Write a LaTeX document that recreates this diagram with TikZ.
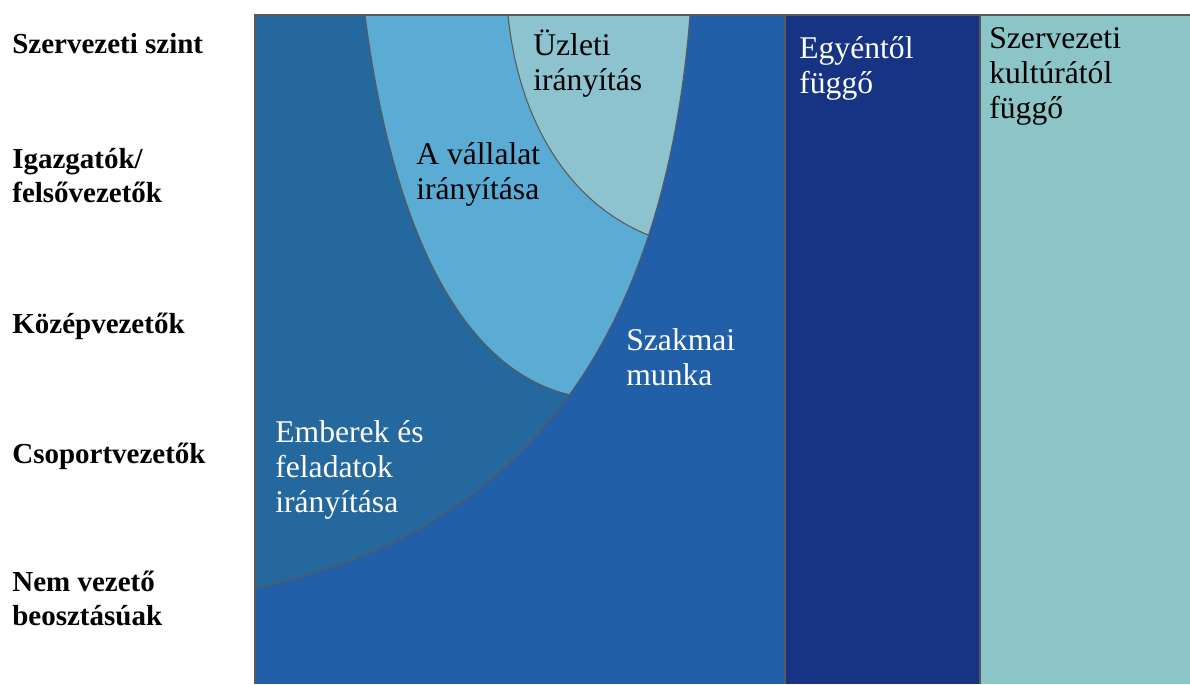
\documentclass[tikz,border=0pt]{standalone}
\usepackage{fontspec}
\setmainfont{Liberation Serif}
\usetikzlibrary{positioning}

\definecolor{midblue}{HTML}{215FA8}
\definecolor{steelblue}{HTML}{25689D}
\definecolor{lightblue}{HTML}{5AACD5}
\definecolor{paleteal}{HTML}{8DC3CF}
\definecolor{navyblue}{HTML}{163483}
\definecolor{sideteal}{HTML}{8CC5C7}

\begin{document}
\begin{tikzpicture}[
        x=0.02cm, y=-0.02cm,
        % Styles
        levellab/.style={anchor=base west, inner sep=0pt, align=left,
                font=\fontsize{16.5}{19.3}\selectfont\bfseries},
        arealab/.style={anchor=base west, inner sep=0pt, align=left,
                font=\fontsize{18}{19.8}\selectfont},
        border/.style={draw=black!65, line width=0.6pt},
        ]

        \useasboundingbox (0,0) rectangle (1190,684);

        % === BACKGROUND (Szakmai munka) ===
        \fill[midblue] (255,15) rectangle (785,684);

        % === NESTED LAYERS ===
        \fill[steelblue] (255,15) -- (690,15) .. controls (664,345) and (520,533) .. (255,588) -- cycle;
        \begin{scope}
            \clip (255,15) -- (690,15) .. controls (664,345) and (520,533) .. (255,588) -- cycle;
            \fill[lightblue] (365,15) .. controls (392,225) and (460,373) .. (575,396)
                -- (720,396) -- (720,15) -- cycle;
            \fill[paleteal] (508,15) .. controls (519,125) and (572,208) .. (656,238)
                -- (720,238) -- (720,15) -- cycle;
            \draw[border] (365,15) .. controls (392,225) and (460,373) .. (575,396);
            \draw[border] (508,15) .. controls (519,125) and (572,208) .. (656,238);
        \end{scope}
        \draw[border] (690,15) .. controls (664,345) and (520,533) .. (255,588);

        % === COLUMNS ===
        \fill[navyblue] (785,15) rectangle (980,684);
        \fill[sideteal] (980,15) rectangle (1190,684);
        \draw[border] (785,15) -- (785,684);
        \draw[border] (980,15) -- (980,684);
        \draw[border] (255,684) -- (255,15) -- (1190,15);

        % === AREA LABELS (base = last line) ===
        \node[arealab] (uzleti) at (533,90) {Üzleti\\irányítás};
        \node[arealab] (vallalat) at (416,199) {A vállalat\\irányítása};
        \node[arealab, text=white] (szakmai) at (626,385) {Szakmai\\munka};
        \node[arealab, text=white] (emberek) at (275,512) {Emberek és\\feladatok\\irányítása};
        \node[arealab, text=white] (egyen) at (799,93) {Egyéntől\\függő};
        \node[arealab] (kultura) at (989,118) {Szervezeti\\kultúrától\\függő};

        % === LEVEL LABELS ===
        \node[levellab] (szint) at (12,53) {Szervezeti szint};
        \node[levellab] (igazgato) at (12,202) {Igazgatók/\\felsővezetők};
        \node[levellab] (kozep) at (12,333) {Középvezetők};
        \node[levellab] (csoport) at (12,463) {Csoportvezetők};
        \node[levellab] (nemvez) at (12,625) {Nem vezető\\beosztásúak};

    \end{tikzpicture}
\end{document}
